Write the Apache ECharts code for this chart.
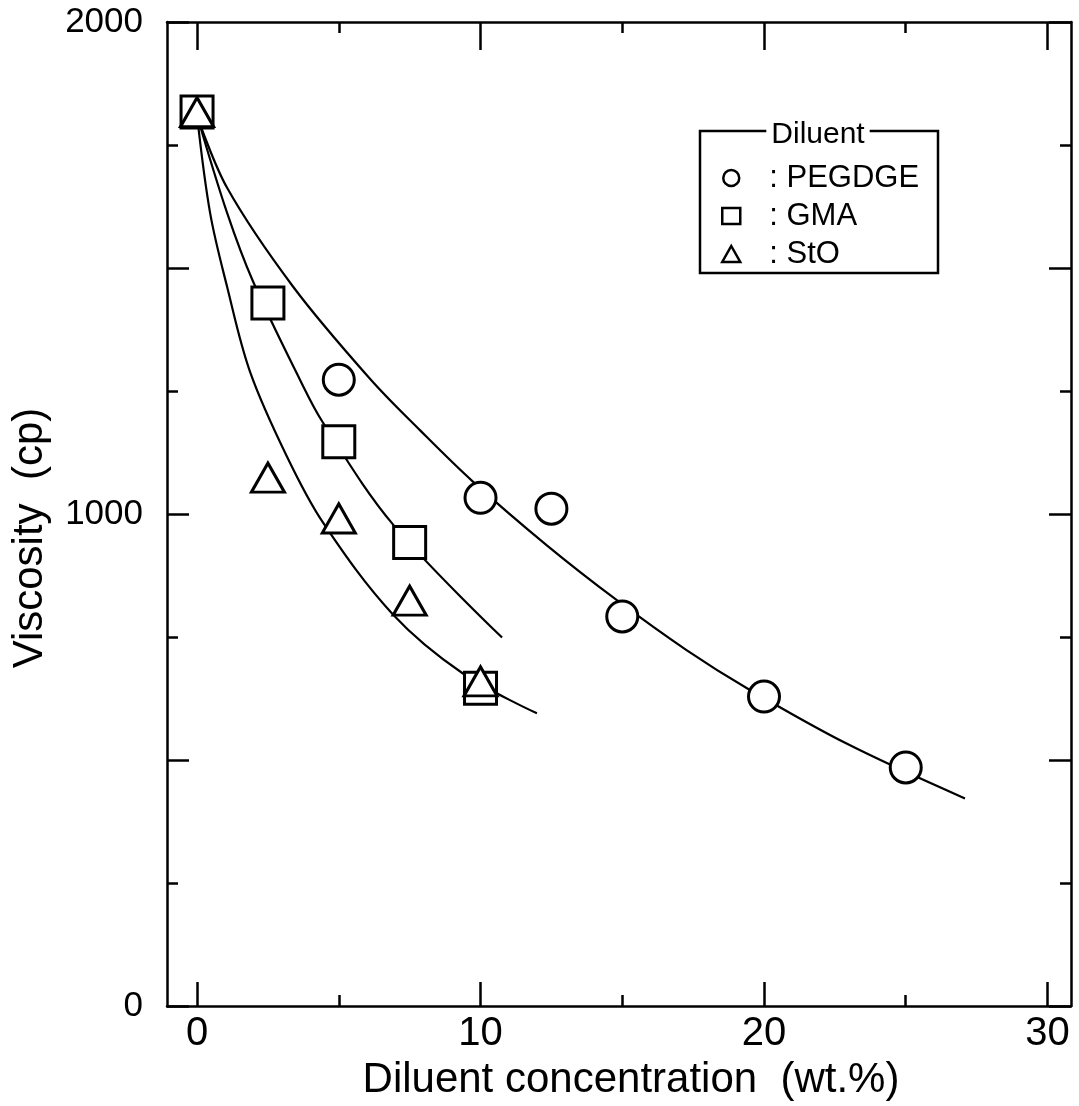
<!DOCTYPE html>
<html>
<head>
<meta charset="utf-8">
<script src="https://cdn.jsdelivr.net/npm/echarts@6/dist/echarts.min.js"></script>
<style>
html,body{margin:0;padding:0;background:#fff;}
#chart{width:1079px;height:1106px;}
</style>
</head>
<body>
<div id="chart"></div>
<script>
// ---- data ----
const seriesNames = ['PEGDGE', 'GMA', 'StO'];

const pegX = [0, 5, 10, 12.5, 15, 20, 25];
const pegY = [1817, 1273, 1033, 1011, 792, 629, 485];

const gmaX = [0, 2.5, 5, 7.5, 10];
const gmaY = [1817, 1429, 1147, 942, 646];

const stoX = [0, 2.5, 5, 7.5, 10];
const stoY = [1817, 1074, 991, 824, 660];

// fitted curves
const pegFitX = [0, 1.06, 3.39, 6.1, 7.87, 9.73, 12.35, 14.81, 17.28, 19.4, 22.93, 27.09];
const pegFitY = [1810, 1663, 1462, 1275, 1170, 1066, 936, 825, 723, 646, 533, 422];

const gmaFitX = [0, 1.06, 1.98, 3.63, 4.44, 6.91, 10.76];
const gmaFitY = [1810, 1612, 1472, 1273, 1186, 979, 749];

const stoFitX = [0, 0.46, 1.06, 1.87, 3.17, 4.44, 6.91, 9.38, 11.99];
const stoFitY = [1810, 1612, 1462, 1289, 1117, 983, 796, 676, 595];

const xMajorTicks = [0, 10, 20, 30];
const xMinorTicks = [5, 15, 25];
const yLabels = [0, 1000, 2000];

const xTitle = 'Diluent concentration  (wt.%)';
const yTitle = 'Viscosity  (cp)';
const legendTitle = 'Diluent';

// ---- build ----
const zip = (a, b) => a.map((v, i) => [v, b[i]]);
const FONT = '"Liberation Sans", Arial, Helvetica, sans-serif';
const XMIN = -1.06, XMAX = 30.83;

function xAxisDef(pos, ticks, len, labels, extra) {
  return Object.assign({
    type: 'value', position: pos, gridIndex: 0, min: XMIN, max: XMAX,
    axisLine: { show: true, onZero: false, lineStyle: { color: '#000', width: 2.5 } },
    axisTick: { show: true, inside: true, length: len, customValues: ticks, lineStyle: { color: '#000', width: 2.5 } },
    axisLabel: labels ? { show: true, customValues: ticks, color: '#000', fontSize: 40, fontFamily: FONT, margin: 8 } : { show: false },
    splitLine: { show: false }
  }, extra || {});
}

function yAxisDef(pos, labels, extra) {
  return Object.assign({
    type: 'value', position: pos, min: 0, max: 2000, interval: 500,
    axisLine: { show: true, onZero: false, lineStyle: { color: '#000', width: 2.5 } },
    axisTick: { show: true, inside: true, length: 22, lineStyle: { color: '#000', width: 2.5 } },
    minorTick: { show: true, splitNumber: 2, length: 11, lineStyle: { color: '#000', width: 2.5 } },
    axisLabel: labels ? { show: true, customValues: yLabels, formatter: v => String(v), color: '#000', fontSize: 35, fontFamily: FONT, margin: 24 } : { show: false },
    splitLine: { show: false }, minorSplitLine: { show: false }
  }, extra || {});
}

const lineStyleFit = { color: '#000', width: 2.2 };

const option = {
  backgroundColor: '#fff',
  animation: false,
  grid: { left: 167, right: 8, top: 22, bottom: 99, containLabel: false },
  xAxis: [
    xAxisDef('bottom', xMajorTicks, 24, true, {
      name: xTitle, nameLocation: 'middle', nameGap: 52,
      nameTextStyle: { color: '#000', fontSize: 42, fontFamily: FONT, padding: [0, 0, 0, 24] }
    }),
    xAxisDef('bottom', xMinorTicks, 11, false, { axisLine: { show: false, onZero: false } }),
    xAxisDef('top', xMajorTicks, 28, false),
    xAxisDef('top', xMinorTicks, 11, false, { axisLine: { show: false, onZero: false } })
  ],
  yAxis: [
    yAxisDef('left', true, {
      name: yTitle, nameLocation: 'middle', nameGap: 116, nameRotate: 90,
      nameTextStyle: { color: '#000', fontSize: 42, fontFamily: FONT, padding: [0, 48, 0, 0] }
    }),
    yAxisDef('right', false)
  ],
  legend: {
    orient: 'vertical', left: 716, top: 157,
    itemWidth: 18, itemHeight: 16, itemGap: 6,
    data: [
      { name: seriesNames[0], icon: 'circle' },
      { name: seriesNames[1], icon: 'rect' },
      { name: seriesNames[2], icon: 'triangle' }
    ],
    itemStyle: { color: '#fff', borderColor: '#000', borderWidth: 2.5 },
    formatter: n => ': ' + n,
    textStyle: { color: '#000', fontSize: 31, fontFamily: FONT, lineHeight: 32, padding: [0, 0, 0, 24] },
    selectedMode: false
  },
  graphic: [
    { type: 'rect', z: 100, shape: { x: 700, y: 131, width: 238, height: 142 },
      style: { fill: 'none', stroke: '#000', lineWidth: 2.5 } },
    { type: 'text', z: 101, x: 818, y: 135,
      style: { text: legendTitle, fill: '#000', font: '30px ' + FONT, align: 'center', verticalAlign: 'middle',
               backgroundColor: '#fff', padding: [0, 5] } }
  ],
  series: [
    { name: 'PEGDGE curve', type: 'line', data: zip(pegFitX, pegFitY), smooth: 0.35,
      showSymbol: false, lineStyle: lineStyleFit, z: 2, silent: true },
    { name: 'GMA curve', type: 'line', data: zip(gmaFitX, gmaFitY), smooth: 0.35,
      showSymbol: false, lineStyle: lineStyleFit, z: 2, silent: true },
    { name: 'StO curve', type: 'line', data: zip(stoFitX, stoFitY), smooth: 0.35,
      showSymbol: false, lineStyle: lineStyleFit, z: 2, silent: true },
    { name: seriesNames[0], type: 'scatter', data: zip(pegX, pegY), symbol: 'circle', symbolSize: 31,
      itemStyle: { color: '#fff', borderColor: '#000', borderWidth: 3, opacity: 1 }, z: 5 },
    { name: seriesNames[1], type: 'scatter', data: zip(gmaX, gmaY), symbol: 'rect', symbolSize: 32,
      itemStyle: { color: '#fff', borderColor: '#000', borderWidth: 3, opacity: 1 }, z: 6 },
    { name: seriesNames[2], type: 'scatter', data: zip(stoX, stoY), symbol: 'triangle', symbolSize: [33, 29],
      itemStyle: { color: '#fff', borderColor: '#000', borderWidth: 3, opacity: 1 }, z: 7 }
  ]
};

const chart = echarts.init(document.getElementById('chart'), null, { renderer: 'canvas' });
chart.setOption(option);
</script>
</body>
</html>
